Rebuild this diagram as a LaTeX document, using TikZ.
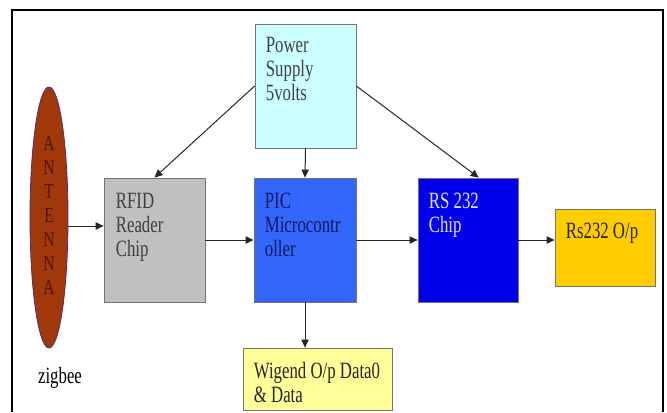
\documentclass[tikz,border=0pt]{standalone}
\usepackage{fontspec}
\setmainfont{Liberation Serif}[FakeStretch=0.72]
\usetikzlibrary{arrows.meta,shapes.geometric}
\definecolor{antbrown}{RGB}{160,56,12}
\definecolor{pwrcyan}{RGB}{204,255,255}
\definecolor{rfidgray}{RGB}{192,192,192}
\definecolor{picblue}{RGB}{51,102,250}
\definecolor{rsblue}{RGB}{0,0,235}
\definecolor{outgold}{RGB}{255,204,0}
\definecolor{wigyellow}{RGB}{255,255,153}

\begin{document}
\begin{tikzpicture}[x=0.75pt,y=0.75pt,yscale=-1,xscale=1,
  box/.style={draw=black!55, line width=0.6pt, inner sep=0pt},
  lbl/.style={anchor=north west, inner sep=0pt, align=left, font=\fontsize{17.5}{18}\selectfont},
  arr/.style={-{Triangle[length=6pt,width=5.5pt]}, draw=black!85, line width=0.75pt}]
\useasboundingbox (0,0) rectangle (667,412);

%outer frame
\draw [line width=2.2pt] (12,412) -- (12,10) -- (663,10) -- (663,412) ;

%antenna
\node [ellipse, draw={rgb,255:red,90;green,40;blue,110}, line width=0.6pt, fill=antbrown, inner sep=0pt,
  minimum width=28.5pt, minimum height=195.75pt] (ant) at (49,217.5) {};
\node [inner sep=0pt, align=center, text={rgb,255:red,80;green,20;blue,5},
  font=\fontsize{16}{18}\selectfont] (antlbl) at (49,215) {A\\N\\T\\E\\N\\N\\A};
\node [inner sep=0pt, font=\fontsize{17.5}{18}\selectfont] (zig) at (60,378) {zigbee};

%blocks
\node [box, fill=pwrcyan, minimum width=75.75pt, minimum height=93pt] (pwr) at (305.5,86) {};
\node [box, fill=rfidgray, minimum width=75.75pt, minimum height=93pt] (rfid) at (154.5,240) {};
\node [box, fill=picblue, minimum width=76.5pt, minimum height=93pt] (pic) at (305,240) {};
\node [box, fill=rsblue, minimum width=75pt, minimum height=93pt] (rs) at (468,240) {};
\node [box, fill=outgold, minimum width=75pt, minimum height=57.75pt] (out) at (605,247.5) {};
\node [box, fill=wigyellow, minimum width=111.75pt, minimum height=46.5pt] (wig) at (317.5,379) {};

% Text Node
\node [lbl, text=black!75] (pwrlbl) at ([shift={(11,13)}]pwr.north west) {Power\\Supply\\5volts};
\node [lbl, text=black!75] (rfidlbl) at ([shift={(12,15)}]rfid.north west) {RFID\\Reader\\Chip};
\node [lbl, text={rgb,255:red,15;green,25;blue,100}] (piclbl) at ([shift={(11,15)}]pic.north west) {PIC\\Microcontr\\oller};
\node [lbl, text={rgb,255:red,225;green,225;blue,255}] (rslbl) at ([shift={(11,15)}]rs.north west) {RS 232\\Chip};
\node [lbl, text=black!85] (outlbl) at ([shift={(11,14)}]out.north west) {Rs232 O/p};
\node [lbl, text=black!85] (wiglbl) at ([shift={(11,14)}]wig.north west) {Wigend O/p Data0\\\& Data};

%connectors
\coordinate (antout) at (68,226);
\draw [arr] (antout) -- (antout -| rfid.west);
\draw [arr] (rfid) -- (pic);
\draw [arr] (pic) -- (rs);
\draw [arr] (rs.east) -- (rs.east -| out.west);
\draw [arr] (pic.south) -- (pic.south |- wig.north);
\draw [arr] (pwr.west) -- (rfid.north);
\draw [arr] (pwr.south) -- (pic.north);
\draw [arr] (pwr.east) -- ([xshift=8pt]rs.north);

\end{tikzpicture}
\end{document}
